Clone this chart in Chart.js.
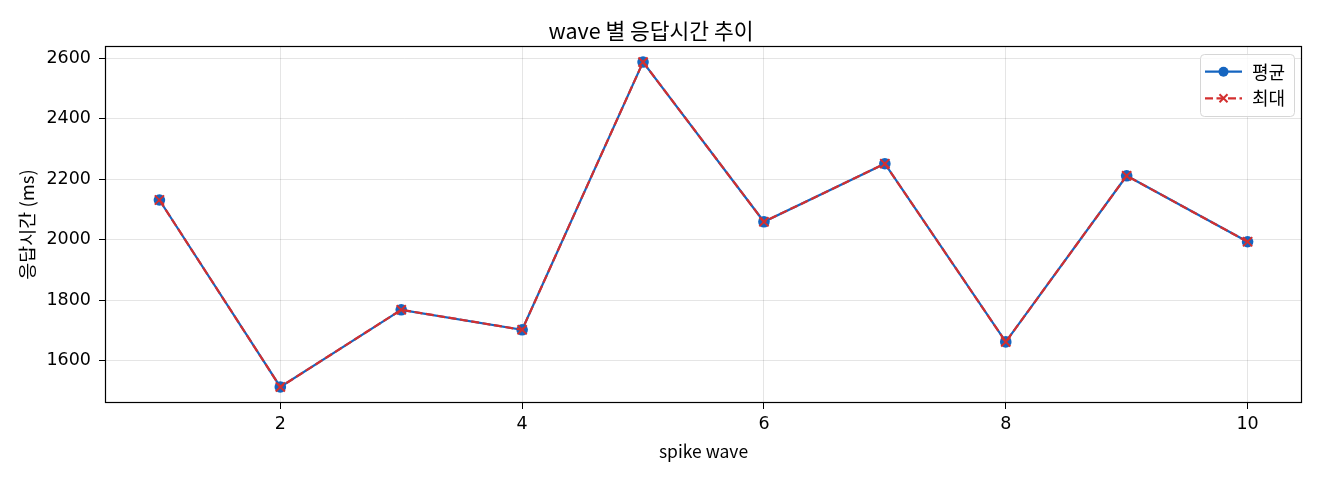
<!DOCTYPE html>
<html>
<head>
<meta charset="utf-8">
<script src="https://cdn.jsdelivr.net/npm/chart.js@4"></script>
<style>
html,body{margin:0;padding:0;background:#fff;}
#wrap{width:1320px;height:480px;}
</style>
</head>
<body>
<div id="wrap"><canvas id="c" width="1320" height="480"></canvas></div>
<script>
const waves = [1, 2, 3, 4, 5, 6, 7, 8, 9, 10];
const avgMs = [2131, 1513, 1768, 1702, 2587, 2059, 2251, 1662, 2211, 1993];
const maxMs = [2131, 1513, 1768, 1702, 2587, 2059, 2251, 1662, 2211, 1993];
const xTicks = [2, 4, 6, 8, 10];
const yTicks = [1600, 1800, 2000, 2200, 2400, 2600];
const seriesLabels = ['평균', '최대'];
const titleText = 'wave 별 응답시간 추이';
const xLabel = 'spike wave';
const yLabel = '응답시간 (ms)';

const BLUE = '#1565C0';
const RED = '#D32F2F';
const LATIN = "'DejaVu Sans', 'Noto Sans CJK KR', sans-serif";
const KR = "'Noto Sans CJK KR', 'DejaVu Sans', sans-serif";

const boxPlugin = {
  id: 'box',
  afterDatasetsDraw(chart) {
    const {ctx, chartArea: a} = chart;
    ctx.save();
    ctx.strokeStyle = '#000';
    ctx.lineWidth = 1.2;
    ctx.strokeRect(Math.round(a.left) + 0.5, Math.round(a.top) + 0.5, Math.round(a.right - a.left) - 1, Math.round(a.bottom - a.top) - 1);
    ctx.restore();
  }
};

const legendPlugin = {
  id: 'mplLegend',
  afterDraw(chart) {
    const {ctx, chartArea: a} = chart;
    const w = 94, h = 62;
    const right = a.right - 8, top = a.top + 8, left = right - w;
    ctx.save();
    ctx.beginPath();
    ctx.roundRect(left + 0.5, top + 0.5, w, h, 4);
    ctx.fillStyle = 'rgba(255,255,255,0.8)';
    ctx.fill();
    ctx.strokeStyle = '#d6d6d6';
    ctx.lineWidth = 1;
    ctx.stroke();
    chart.data.datasets.forEach((ds, i) => {
      const y = top + 17.7 + i * 26.6;
      ctx.strokeStyle = ds.borderColor;
      ctx.lineWidth = ds.borderWidth;
      ctx.setLineDash(ds.borderDash || []);
      ctx.beginPath();
      ctx.moveTo(left + 5, y);
      ctx.lineTo(left + 42, y);
      ctx.stroke();
      ctx.setLineDash([]);
      const mx = left + 23.5;
      if (ds.pointStyle === 'circle') {
        ctx.fillStyle = ds.pointBackgroundColor;
        ctx.beginPath();
        ctx.arc(mx, y, 5, 0, Math.PI * 2);
        ctx.fill();
      } else {
        ctx.strokeStyle = ds.pointBorderColor;
        ctx.lineWidth = 2;
        const r = 4;
        ctx.beginPath();
        ctx.moveTo(mx - r, y - r); ctx.lineTo(mx + r, y + r);
        ctx.moveTo(mx - r, y + r); ctx.lineTo(mx + r, y - r);
        ctx.stroke();
      }
      ctx.fillStyle = '#000';
      ctx.font = "18px " + KR;
      ctx.textAlign = 'left';
      ctx.textBaseline = 'middle';
      ctx.fillText(ds.label, left + 52, y);
    });
    ctx.restore();
  }
};

new Chart(document.getElementById('c'), {
  type: 'line',
  data: {
    datasets: [
      {
        label: seriesLabels[0],
        data: waves.map((x, i) => ({x, y: avgMs[i]})),
        borderColor: BLUE,
        backgroundColor: BLUE,
        borderWidth: 2.2,
        pointStyle: 'circle',
        pointRadius: 5.8,
        pointBackgroundColor: BLUE,
        pointBorderColor: BLUE,
        pointBorderWidth: 0,
        order: 1
      },
      {
        label: seriesLabels[1],
        data: waves.map((x, i) => ({x, y: maxMs[i]})),
        borderColor: RED,
        backgroundColor: RED,
        borderWidth: 2.2,
        borderDash: [8, 3.5],
        pointStyle: 'crossRot',
        pointRadius: 6.5,
        pointBackgroundColor: RED,
        pointBorderColor: RED,
        pointBorderWidth: 2,
        order: 0
      }
    ]
  },
  options: {
    responsive: false,
    animation: false,
    devicePixelRatio: 1,
    layout: {padding: {left: 0, right: 18, top: 0, bottom: 0}},
    plugins: {
      legend: {display: false},
      tooltip: {enabled: false},
      title: {
        display: true,
        text: titleText,
        color: '#000',
        font: {family: KR, size: 21.5, weight: 'normal', lineHeight: 1.2},
        padding: {top: 17.5, bottom: 2.7}
      }
    },
    scales: {
      x: {
        type: 'linear',
        min: 0.55,
        max: 10.45,
        afterFit(s) { s.height = 77; },
        afterBuildTicks(s) { s.ticks = xTicks.map(v => ({value: v})); },
        border: {display: false},
        grid: {color: 'rgba(0,0,0,0.1)', lineWidth: 1, drawTicks: true, tickLength: 6, tickColor: '#000', tickWidth: 1},
        ticks: {color: '#000', padding: 5, maxRotation: 0, font: {family: LATIN, size: 17.5}, callback: v => String(v)},
        title: {display: true, text: xLabel, color: '#000', font: {family: KR, size: 17.5}, padding: {top: 0, bottom: 18}}
      },
      y: {
        type: 'linear',
        min: 1460,
        max: 2640,
        afterFit(s) { s.width = 105; },
        afterBuildTicks(s) { s.ticks = yTicks.map(v => ({value: v})); },
        border: {display: false},
        grid: {color: 'rgba(0,0,0,0.1)', lineWidth: 1, drawTicks: true, tickLength: 6, tickColor: '#000', tickWidth: 1},
        ticks: {color: '#000', padding: 8, font: {family: LATIN, size: 17.5}, callback: v => String(v)},
        title: {display: true, text: yLabel, color: '#000', font: {family: KR, size: 18.5}, padding: {top: 16, bottom: 0}}
      }
    }
  },
  plugins: [boxPlugin, legendPlugin]
});
</script>
</body>
</html>
